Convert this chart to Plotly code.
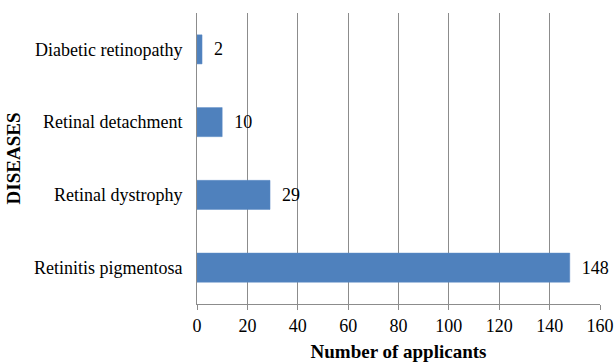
import plotly.graph_objects as go

categories = ["Retinitis pigmentosa", "Retinal dystrophy", "Retinal detachment", "Diabetic retinopathy"]
values = [148, 29, 10, 2]
x_ticks = [0, 20, 40, 60, 80, 100, 120, 140, 160]

FONT = "Times New Roman, Liberation Serif, serif"

fig = go.Figure(go.Bar(
    y=categories, x=values, orientation="h",
    marker=dict(color="#4F81BD", line=dict(color="#5B8BC6", width=0.5)),
    width=0.4,
    texttemplate="  %{x}", textposition="outside",
    textfont=dict(family=FONT, size=18, color="#000000"),
    cliponaxis=False,
))

fig.update_layout(
    width=614, height=362,
    margin=dict(l=197, r=14, t=13, b=58, autoexpand=False),
    paper_bgcolor="white", plot_bgcolor="white",
    showlegend=False,
    font=dict(family=FONT, size=18, color="#000000"),
    xaxis=dict(
        range=[0, 160], tickvals=x_ticks, ticktext=[str(t) for t in x_ticks],
        showgrid=True, gridcolor="#8C8C8C", gridwidth=1,
        showline=True, linecolor="#8C8C8C", linewidth=1,
        ticks="outside", ticklen=5, tickcolor="#8C8C8C",
        zeroline=False, automargin=False,
        tickfont=dict(family=FONT, size=18),
        title=dict(text="<b>Number of applicants</b>", font=dict(family=FONT, size=19), standoff=10),
    ),
    yaxis=dict(
        showline=True, linecolor="#8C8C8C", linewidth=1,
        ticks="", ticklabelstandoff=10, automargin=False,
        tickfont=dict(family=FONT, size=18),
        title=dict(text="<b>DISEASES</b>", font=dict(family=FONT, size=19), standoff=8),
    ),
    bargap=0.6,
)

fig.write_html("out.html")
